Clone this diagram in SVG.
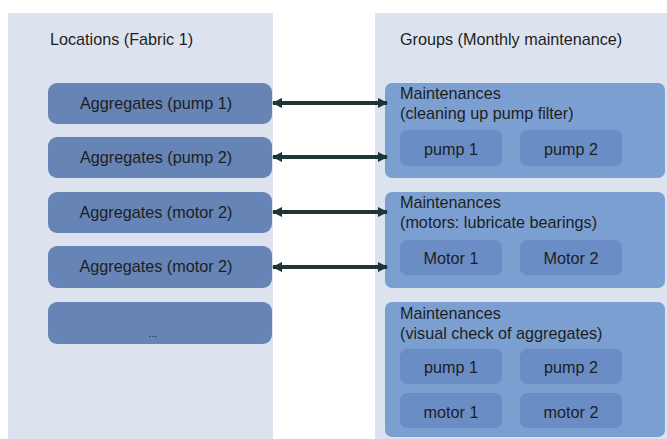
<svg xmlns="http://www.w3.org/2000/svg" width="667" height="439" viewBox="0 0 667 439">
<defs>
<marker id="ah" viewBox="0 0 10 10" refX="9" refY="5" markerWidth="2.6" markerHeight="2.6" orient="auto-start-reverse" markerUnits="strokeWidth">
<path d="M0,0 L10,5 L0,10 Z" fill="#1c3535"/>
</marker>
</defs>
<style>
text{font-family:"Liberation Sans",Arial,sans-serif;fill:#1e1e1e;font-size:16.2px}
.panel{fill:#dde3ee}
.agg{fill:#6684b6}
.grp{fill:#7c9fd2}
.inner{fill:#6a8dc6}
.c{text-anchor:middle}
.conn{stroke:#1c3535;stroke-width:4;fill:none}
</style>
<rect width="667" height="439" fill="#ffffff"/>
<g id="locations">
<rect class="panel" x="8" y="13" width="265" height="426"/>
<text x="50" y="45">Locations (Fabric 1)</text>
</g>
<g id="groups">
<rect class="panel" x="375" y="13" width="292" height="426"/>
<text x="400" y="45">Groups (Monthly maintenance)</text>
</g>
<g id="agg1"><rect class="agg" x="48" y="83" width="224" height="41" rx="9"/><text class="c" x="156" y="109">Aggregates (pump 1)</text></g>
<g id="agg2"><rect class="agg" x="48" y="137" width="224" height="41" rx="9"/><text class="c" x="156" y="163">Aggregates (pump 2)</text></g>
<g id="agg3"><rect class="agg" x="48" y="192" width="224" height="41" rx="9"/><text class="c" x="156" y="218">Aggregates (motor 2)</text></g>
<g id="agg4"><rect class="agg" x="48" y="246" width="224" height="42" rx="9"/><text class="c" x="156" y="272">Aggregates (motor 2)</text></g>
<g id="agg5"><rect class="agg" x="48" y="302" width="224" height="42" rx="9"/><text class="c" x="153" y="337" style="font-size:11px">...</text></g>
<g id="grp1">
<rect class="grp" x="385" y="83" width="280" height="95" rx="7"/>
<text x="400" y="99">Maintenances</text>
<text x="400" y="119">(cleaning up pump filter)</text>
<rect class="inner" x="400" y="130" width="102" height="36" rx="7"/><text class="c" x="451" y="155">pump 1</text>
<rect class="inner" x="520" y="130" width="102" height="36" rx="7"/><text class="c" x="571" y="155">pump 2</text>
</g>
<g id="grp2">
<rect class="grp" x="385" y="192" width="280" height="96" rx="7"/>
<text x="400" y="208">Maintenances</text>
<text x="400" y="228">(motors: lubricate bearings)</text>
<rect class="inner" x="400" y="240" width="102" height="35" rx="7"/><text class="c" x="451" y="264">Motor 1</text>
<rect class="inner" x="520" y="240" width="102" height="35" rx="7"/><text class="c" x="571" y="264">Motor 2</text>
</g>
<g id="grp3">
<rect class="grp" x="385" y="302" width="280" height="135" rx="7"/>
<text x="400" y="319">Maintenances</text>
<text x="400" y="339">(visual check of aggregates)</text>
<rect class="inner" x="400" y="349" width="102" height="35" rx="7"/><text class="c" x="451" y="373">pump 1</text>
<rect class="inner" x="520" y="349" width="102" height="35" rx="7"/><text class="c" x="571" y="373">pump 2</text>
<rect class="inner" x="400" y="393" width="102" height="35" rx="7"/><text class="c" x="451" y="418">motor 1</text>
<rect class="inner" x="520" y="393" width="102" height="35" rx="7"/><text class="c" x="571" y="418">motor 2</text>
</g>
<g id="connectors">
<line class="conn" x1="273" y1="103" x2="387" y2="103" marker-start="url(#ah)" marker-end="url(#ah)"/>
<line class="conn" x1="273" y1="157" x2="387" y2="157" marker-start="url(#ah)" marker-end="url(#ah)"/>
<line class="conn" x1="273" y1="212" x2="387" y2="212" marker-start="url(#ah)" marker-end="url(#ah)"/>
<line class="conn" x1="273" y1="267" x2="387" y2="267" marker-start="url(#ah)" marker-end="url(#ah)"/>
</g>
</svg>
